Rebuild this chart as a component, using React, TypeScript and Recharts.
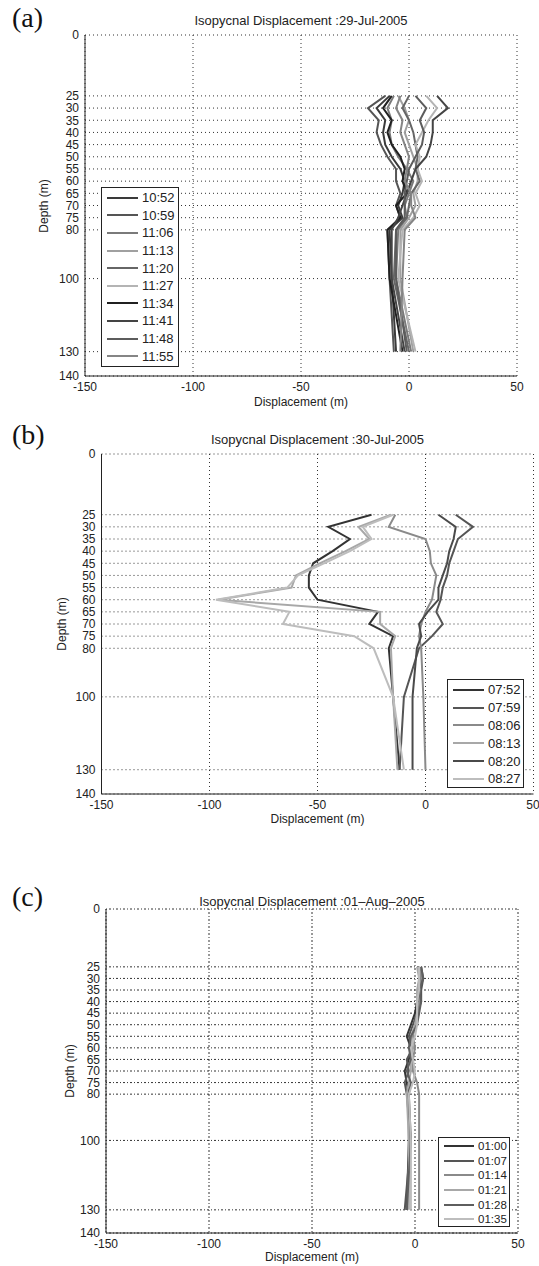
import React from 'react';
import { LineChart, Line, XAxis, YAxis, CartesianGrid } from 'recharts';

const W = 539;
const FONT = '"Liberation Sans", Arial, sans-serif';

// depth levels (m) shared by all three casts
const DEPTHS = [25, 30, 35, 40, 45, 50, 55, 60, 65, 70, 75, 80, 100, 130];
const DEPTH_TICKS = [0, 25, 30, 35, 40, 45, 50, 55, 60, 65, 70, 75, 80, 100, 130, 140];
const DISP_TICKS = [-150, -100, -50, 0, 50];

// (a) 29-Jul-2005
const timesA = ['10:52', '10:59', '11:06', '11:13', '11:20', '11:27', '11:34', '11:41', '11:48', '11:55'];
const colorsA = ['#3a3a3a', '#555555', '#7a7a7a', '#a0a0a0', '#666666', '#b4b4b4', '#202020', '#444444', '#5c5c5c', '#858585'];
const a1052 = [-9, -15, -11, -12, -11, -8, -4, -2, -3, -5, -3, -9, -8, -6];
const a1059 = [-11, -19, -14, -15, -13, -10, -6, -6, -4, -6, -4, -10, -9, -7];
const a1106 = [-7, -10, -8, -9, -8, -5, -1, 2, 0, -2, -1, -5, -6, 1];
const a1113 = [-5, -2, 0, -2, 0, 2, 4, 4, 2, 3, 0, -4, -4, 2];
const a1120 = [0, -3, 0, 2, 3, 4, 3, 5, 1, 0, -1, -6, -7, 0];
const a1127 = [8, 13, 9, 6, 3, 5, 4, 6, 3, 5, 2, -3, -5, 3];
const a1134 = [-8, -12, -8, -10, -8, -4, -2, -3, -1, -6, -4, -10, -9, -3];
const a1141 = [13, 18, 11, 11, 10, 8, 3, 1, -1, -3, -5, -8, -8, -2];
const a1148 = [3, 8, 5, 7, 6, 3, 0, -1, -2, -2, -2, -6, -6, -1];
const a1155 = [-4, -6, -3, -4, -2, 0, -1, -2, 1, 1, 3, -2, -3, -4];

// (b) 30-Jul-2005
const timesB = ['07:52', '07:59', '08:06', '08:13', '08:20', '08:27'];
const colorsB = ['#333333', '#555555', '#8a8a8a', '#a8a8a8', '#4a4a4a', '#bdbdbd'];
const b0752 = [-25, -45, -35, -43, -52, -54, -54, -50, -22, -26, -15, -17, -15, -12];
const b0759 = [14, 22, 15, 13, 11, 10, 8, 7, 5, 8, 3, -3, -10, -12];
const b0806 = [-14, -17, 0, 2, 2.5, 5, 4, 3, 0, -2, -3, -2, -1, 0];
const b0813 = [-16, -31, -26, -37, -49, -60, -62, -96, -21, -21, -14, -16, -15, -13];
const b0820 = [6, 14, 13, 11, 10, 8, 6, 6, 1, -3, -2, -4, -6, -6];
const b0827 = [-15, -29, -25, -35, -47, -59, -64, -97, -63, -66, -33, -24, -15, -10];

// (c) 01-Aug-2005
const timesC = ['01:00', '01:07', '01:14', '01:21', '01:28', '01:35'];
const colorsC = ['#333333', '#555555', '#8a8a8a', '#a8a8a8', '#5e5e5e', '#bdbdbd'];
const c0100 = [2, 3, 2, 1, 0, -2, -4, -2, -3, -5, -4, -3, -3, -4];
const c0107 = [3, 4, 3, 3, 1, -1, -3, -1, -4, -3, -5, -4, -2, -5];
const c0114 = [2, 3, 2, 2, 2, 0, -1, 0, -1, -1, 1, 2, 2, 2];
const c0121 = [1, 2, 1, 1, 1, 0, -2, -1, -2, -2, -3, -4, -3, -3];
const c0128 = [3, 4, 2, 3, 2, 1, -2, -3, -2, -4, -2, -3, -2, -4];
const c0135 = [2, 2, 2, 1, 1, 1, 0, -2, -1, 0, -1, -3, -2, -2];

const centered = (x: number, y: number, extra: React.CSSProperties = {}): React.CSSProperties => ({
  position: 'absolute',
  left: x,
  top: y,
  transform: 'translate(-50%, -50%)',
  whiteSpace: 'nowrap',
  fontFamily: FONT,
  color: '#222',
  ...extra,
});

function Panel(props: any) {
  const { top, height, plot, times, colors, series, title, titleY, tag, tagY, ylabelX, xlabelY, legend, dash } = props;
  const rows = DEPTHS.map((d, i) => {
    const r: any = { depth: d };
    series.forEach((s: number[], k: number) => {
      r['s' + k] = s[i];
    });
    return r;
  });
  const yW = 40;
  const xH = 30;
  const margin = { top: plot.top, left: plot.left - yW, right: W - plot.right, bottom: height - plot.bottom - xH };
  const tick = { fontSize: 12, fill: '#222', fontFamily: FONT };
  const midX = (plot.left + plot.right) / 2;
  const midY = (plot.top + plot.bottom) / 2;

  return (
    <div style={{ position: 'absolute', left: 0, top, width: W, height }}>
      <LineChart layout="vertical" width={W} height={height} data={rows} margin={margin}>
        <CartesianGrid stroke="#333" strokeDasharray={dash} />
        <XAxis
          type="number"
          domain={[-150, 50]}
          ticks={DISP_TICKS}
          height={xH}
          tick={tick}
          tickLine={false}
          tickSize={4}
          tickMargin={2}
          axisLine={{ stroke: '#222' }}
        />
        {/* vertical layout already runs the y scale top-to-bottom, so depth grows downward */}
        <YAxis
          type="number"
          dataKey="depth"
          domain={[0, 140]}
          ticks={DEPTH_TICKS}
          interval={0}
          width={yW}
          tick={tick}
          tickLine={false}
          tickSize={4}
          tickMargin={2}
          axisLine={{ stroke: '#222' }}
        />
        {series.map((_: number[], k: number) => (
          <Line
            key={k}
            dataKey={'s' + k}
            name={times[k]}
            stroke={colors[k]}
            strokeWidth={2}
            dot={false}
            isAnimationActive={false}
          />
        ))}
      </LineChart>

      <div style={centered(midX, titleY, { fontSize: 13 })}>{title}</div>
      <div style={{ position: 'absolute', left: 12, top: tagY, transform: 'translateY(-50%)', fontFamily: '"Liberation Serif", "Times New Roman", serif', fontSize: 28, color: '#111' }}>
        {tag}
      </div>
      <div style={centered(ylabelX, midY, { fontSize: 12, transform: 'translate(-50%, -50%) rotate(-90deg)' })}>Depth (m)</div>
      <div style={centered(midX, xlabelY, { fontSize: 12 })}>Displacement (m)</div>

      <div
        style={{
          position: 'absolute',
          left: legend.left,
          top: legend.top,
          width: legend.width,
          height: legend.height,
          border: '1px solid #222',
          background: '#fff',
          boxSizing: 'border-box',
          paddingTop: legend.pad,
        }}
      >
        {times.map((t: string, k: number) => (
          <div key={t} style={{ display: 'flex', alignItems: 'center', height: legend.rowH }}>
            <div style={{ marginLeft: 5, width: legend.lineW, height: 2, background: colors[k] }} />
            <div style={{ marginLeft: 4, fontFamily: FONT, fontSize: legend.font, color: '#222' }}>{t}</div>
          </div>
        ))}
      </div>
    </div>
  );
}

export default function App() {
  return (
    <div style={{ position: 'absolute', left: 0, top: 0, width: W, height: 1266, background: '#fff' }}>
      <Panel
        top={0}
        height={420}
        plot={{ left: 85, top: 35, right: 517, bottom: 376 }}
        times={timesA}
        colors={colorsA}
        series={[a1052, a1059, a1106, a1113, a1120, a1127, a1134, a1141, a1148, a1155]}
        title="Isopycnal Displacement :29-Jul-2005"
        titleY={20}
        tag="(a)"
        tagY={18}
        ylabelX={44}
        xlabelY={402}
        dash="1 3"
        legend={{ left: 101, top: 187, width: 78, height: 180, rowH: 17.6, pad: 1, lineW: 31, font: 13 }}
      />
      <Panel
        top={420}
        height={420}
        plot={{ left: 101.5, top: 34, right: 533.5, bottom: 374 }}
        times={timesB}
        colors={colorsB}
        series={[b0752, b0759, b0806, b0813, b0820, b0827]}
        title="Isopycnal Displacement :30-Jul-2005"
        titleY={19}
        tag="(b)"
        tagY={15}
        ylabelX={62}
        xlabelY={399}
        dash="1 3"
        legend={{ left: 447, top: 259, width: 77, height: 109, rowH: 17.8, pad: 1, lineW: 31, font: 13 }}
      />
      <Panel
        top={840}
        height={426}
        plot={{ left: 106, top: 69, right: 518, bottom: 393 }}
        times={timesC}
        colors={colorsC}
        series={[c0100, c0107, c0114, c0121, c0128, c0135]}
        title="Isopycnal Displacement :01–Aug–2005"
        titleY={61}
        tag="(c)"
        tagY={57}
        ylabelX={70}
        xlabelY={417}
        dash="1 2 2 2"
        legend={{ left: 438, top: 297, width: 72, height: 90, rowH: 14.6, pad: 1, lineW: 30, font: 11.5 }}
      />
    </div>
  );
}
